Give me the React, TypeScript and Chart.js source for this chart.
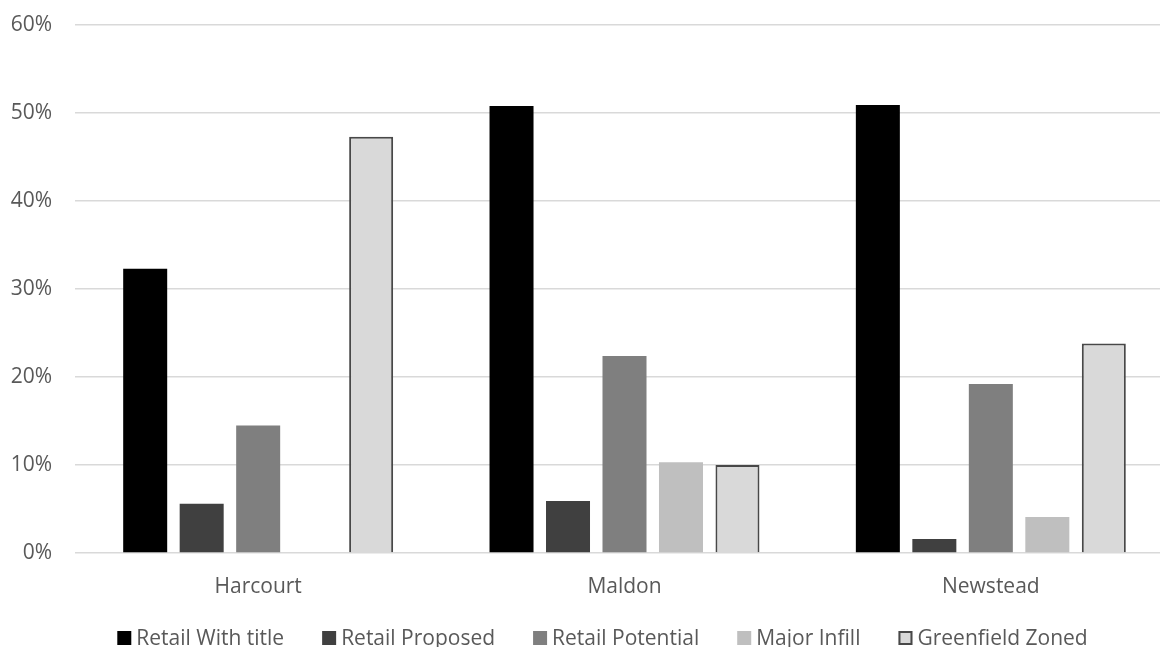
import React, { useEffect, useRef } from "react";
import { Chart, registerables } from "chart.js";

Chart.register(...registerables);

// Share of each category by town
const categories = ["Harcourt", "Maldon", "Newstead"];
const seriesNames = [
  "Retail With title",
  "Retail Proposed",
  "Retail Potential",
  "Major Infill",
  "Greenfield Zoned",
];
const retailWithTitle = [32.3, 50.8, 50.9];
const retailProposed = [5.6, 5.9, 1.6];
const retailPotential = [14.5, 22.4, 19.2];
const majorInfill = [0, 10.3, 4.1];
const greenfieldZoned = [47.3, 10.0, 23.8];
const yTickValues = [0, 10, 20, 30, 40, 50, 60];

const fills = ["#000000", "#404040", "#7f7f7f", "#bfbfbf", "#d9d9d9"];
const borders = ["#000000", "#404040", "#7f7f7f", "#bfbfbf", "#484848"];
const borderWidths = [0, 0, 0, 0, 2];

const FONT = "'Open Sans', sans-serif";
const TEXT = "#595959";
const FONT_SIZE = 21;

// Legend drawn under the axis, centred, with square swatches
const bottomLegend = {
  id: "bottomLegend",
  afterDraw(chart: any) {
    const ctx = chart.ctx as CanvasRenderingContext2D;
    ctx.save();
    ctx.font = `${FONT_SIZE}px ${FONT}`;
    const box = 14;
    const textGap = 19;
    const itemGap = 38;
    const widths = seriesNames.map((n) => textGap + ctx.measureText(n).width);
    const total = widths.reduce((a, b) => a + b, 0) + itemGap * (seriesNames.length - 1);
    let x = 602.5 - total / 2;
    const baseline = 645;
    seriesNames.forEach((name, i) => {
      const ds = chart.data.datasets[i];
      ctx.fillStyle = ds.backgroundColor;
      ctx.fillRect(x, baseline - box, box, box);
      if (ds.borderWidth > 0) {
        ctx.strokeStyle = ds.borderColor;
        ctx.lineWidth = ds.borderWidth;
        ctx.strokeRect(x + 1, baseline - box + 1, box - 2, box - 2);
      }
      ctx.fillStyle = TEXT;
      ctx.textBaseline = "alphabetic";
      ctx.textAlign = "left";
      ctx.fillText(name, x + textGap, baseline);
      x += widths[i] + itemGap;
    });
    ctx.restore();
  },
};

export default function App() {
  const canvasRef = useRef<HTMLCanvasElement | null>(null);

  useEffect(() => {
    if (!canvasRef.current) return;
    const values = [retailWithTitle, retailProposed, retailPotential, majorInfill, greenfieldZoned];
    const chart = new Chart(canvasRef.current, {
      type: "bar",
      data: {
        labels: categories,
        datasets: seriesNames.map((name, i) => ({
          label: name,
          data: values[i],
          backgroundColor: fills[i],
          borderColor: borders[i],
          borderWidth: borderWidths[i],
          categoryPercentage: 0.771,
          barPercentage: 0.779,
        })),
      },
      options: {
        responsive: false,
        animation: false,
        devicePixelRatio: 1,
        layout: { padding: { top: 25, right: 4, left: 0, bottom: 0 } },
        plugins: {
          legend: { display: false },
          tooltip: { enabled: false },
        },
        scales: {
          x: {
            grid: { display: false, drawTicks: false },
            border: { display: false },
            ticks: {
              color: TEXT,
              font: { family: FONT, size: FONT_SIZE },
              padding: 21,
            },
            afterFit: (scale: any) => {
              scale.height = 94;
            },
          },
          y: {
            min: 0,
            max: 60,
            afterBuildTicks: (scale: any) => {
              scale.ticks = yTickValues.map((v) => ({ value: v }));
            },
            grid: { color: "#d9d9d9", lineWidth: 1.5, drawTicks: false },
            border: { display: false },
            ticks: {
              color: TEXT,
              font: { family: FONT, size: FONT_SIZE },
              padding: 23,
              callback: (v: any) => `${v}%`,
            },
            afterFit: (scale: any) => {
              scale.width = 75;
              scale.paddingTop = 0;
              scale.paddingBottom = 0;
            },
          },
        },
      },
      plugins: [bottomLegend],
    });
    return () => chart.destroy();
  }, []);

  return (
    <div
      style={{
        position: "fixed",
        left: 0,
        top: 0,
        width: 1160,
        height: 647,
        overflow: "hidden",
        background: "#ffffff",
      }}
    >
      <canvas ref={canvasRef} width={1178} height={647} style={{ display: "block" }} />
    </div>
  );
}
